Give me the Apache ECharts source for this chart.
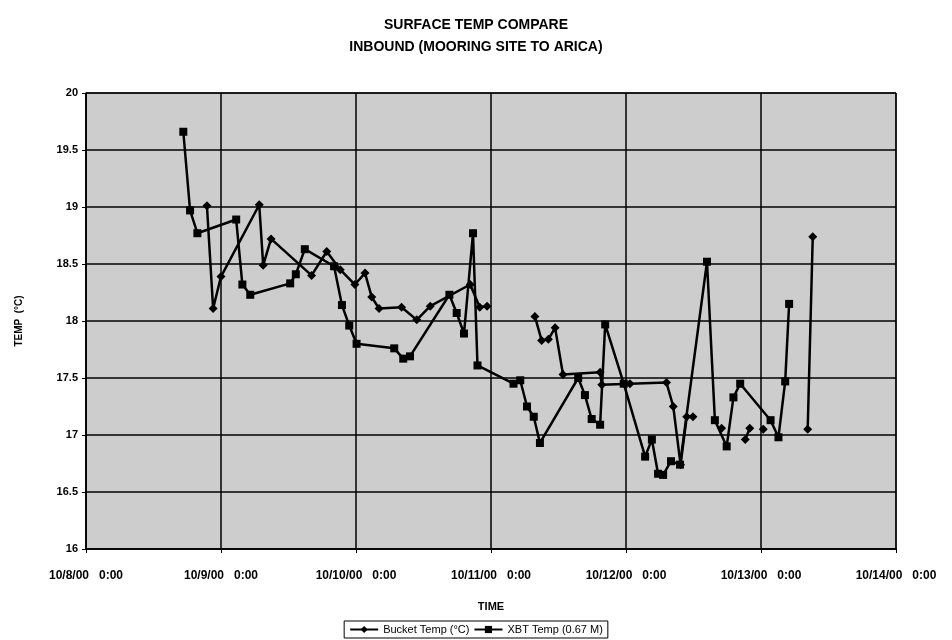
<!DOCTYPE html>
<html>
<head>
<meta charset="utf-8">
<script src="https://cdn.jsdelivr.net/npm/echarts@6/dist/echarts.min.js"></script>
<style>
  html, body { margin: 0; padding: 0; background: #fff; }
  #chart { width: 952px; height: 640px; }
</style>
</head>
<body>
<div id="chart"></div>
<script>
// hours since 10/8/00 0:00, null = gap in the line
const bucketHours = [21.5, 22.6, 24.0, 30.8, 31.5, 32.9, 40.1, 42.8, 45.2, 47.8, 49.6, 50.8, 52.1, 56.1, 58.8, 61.2, 68.3, 70.0, 71.3,
  75.0, 79.8, 81.0, 82.2, 83.4, 84.8, 91.4, 91.7, 96.7, 103.2, 104.4, 105.7, 106.8, 107.9,
  110.0, 113.0, 115.0, 117.2, 118.0, 119.0, 120.4, 124.0, 128.3, 129.2]
const bucketTemp = [19.01, 18.11, 18.39, 19.02, 18.49, 18.72, 18.40, 18.61, 18.45, 18.32, 18.42, 18.21, 18.11, 18.12, 18.01, 18.13, 18.32, 18.12, 18.13,
  null, 18.04, 17.83, 17.84, 17.94, 17.53, 17.55, 17.44, 17.45, 17.46, 17.25, 16.74, 17.16, 17.16,
  null, 17.06, null, 16.96, 17.06, null, 17.05, null, 17.05, 18.74]

const xbtHours = [17.3, 18.5, 19.8, 26.7, 27.8, 29.2, 36.3, 37.3, 38.9, 44.1, 45.5, 46.8, 48.1, 54.8, 56.4, 57.6,
  64.6, 65.9, 67.2, 68.8, 69.6, 76.0, 77.2, 78.4, 79.6, 80.7, 87.5, 88.7, 89.9, 91.4, 92.3, 95.6,
  99.4, 100.6, 101.7, 102.6, 104.0, 105.6, 110.4, 111.8, 113.9, 115.1, 116.3, 121.7, 123.1, 124.3, 125.0]
const xbtTemp = [19.66, 18.97, 18.77, 18.89, 18.32, 18.23, 18.33, 18.41, 18.63, 18.48, 18.14, 17.96, 17.80, 17.76, 17.67, 17.69,
  18.23, 18.07, 17.89, 18.77, 17.61, 17.45, 17.48, 17.25, 17.16, 16.93, 17.50, 17.35, 17.14, 17.09, 17.97, 17.45,
  16.81, 16.96, 16.66, 16.65, 16.77, 16.74, 18.52, 17.13, 16.90, 17.33, 17.45, 17.13, 16.98, 17.47, 18.15]

const timeLabels = ['10/8/00   0:00', '10/9/00   0:00', '10/10/00   0:00', '10/11/00   0:00',
  '10/12/00   0:00', '10/13/00   0:00', '10/14/00   0:00']

function pairs(xs, ys) {
  return xs.map((x, i) => [x, ys[i] === null ? '-' : ys[i]])
}

const font = 'Liberation Sans, Arial, sans-serif'
const chart = echarts.init(document.getElementById('chart'), null, {renderer: 'canvas'})

chart.setOption({
  animation: false,
  backgroundColor: '#ffffff',
  title: {
    text: 'SURFACE TEMP COMPARE\nINBOUND (MOORING SITE TO ARICA)',
    left: 'center',
    top: 9,
    textStyle: {fontFamily: font, fontWeight: 'bold', fontSize: 14, lineHeight: 22, color: '#000'}
  },
  grid: {
    left: 86, right: 56, top: 93, bottom: 91,
    show: true,
    backgroundColor: '#cdcdcd',
    borderColor: '#000',
    borderWidth: 1
  },
  legend: {
    bottom: 2,
    left: 'center',
    itemGap: 4,
    itemWidth: 28,
    itemHeight: 9,
    padding: [3, 5],
    borderColor: '#000',
    borderWidth: 1,
    textStyle: {fontFamily: font, fontSize: 11, color: '#000'},
    data: ['Bucket Temp (°C)', 'XBT Temp (0.67 M)']
  },
  xAxis: {
    type: 'value',
    min: 0,
    max: 144,
    interval: 24,
    name: 'TIME',
    nameLocation: 'middle',
    nameGap: 52,
    nameTextStyle: {fontFamily: font, fontWeight: 'bold', fontSize: 11, color: '#000'},
    axisLine: {lineStyle: {color: '#000', width: 1.5}},
    axisTick: {show: true, length: 4, lineStyle: {color: '#000'}},
    axisLabel: {
      margin: 21,
      fontFamily: font, fontWeight: 'bold', fontSize: 12, color: '#000',
      formatter: v => timeLabels[Math.round(v / 24)]
    },
    splitLine: {show: true, lineStyle: {color: '#000', width: 1.5}}
  },
  yAxis: {
    type: 'value',
    min: 16,
    max: 20,
    interval: 0.5,
    name: 'TEMP  (°C)',
    nameLocation: 'middle',
    nameGap: 62,
    nameTextStyle: {fontFamily: font, fontWeight: 'bold', fontSize: 10, color: '#000'},
    axisLine: {show: true, lineStyle: {color: '#000', width: 1.5}},
    axisTick: {show: true, length: 4, lineStyle: {color: '#000'}},
    axisLabel: {fontFamily: font, fontWeight: 'bold', fontSize: 11, color: '#000', margin: 8},
    splitLine: {show: true, lineStyle: {color: '#000', width: 1.5}}
  },
  series: [
    {
      name: 'Bucket Temp (°C)',
      type: 'line',
      data: pairs(bucketHours, bucketTemp),
      connectNulls: false,
      symbol: 'diamond',
      symbolSize: 9,
      lineStyle: {color: '#000', width: 2.5},
      itemStyle: {color: '#000'}
    },
    {
      name: 'XBT Temp (0.67 M)',
      type: 'line',
      data: pairs(xbtHours, xbtTemp),
      symbol: 'rect',
      symbolSize: 8,
      lineStyle: {color: '#000', width: 2.5},
      itemStyle: {color: '#000'}
    }
  ]
})
</script>
</body>
</html>
